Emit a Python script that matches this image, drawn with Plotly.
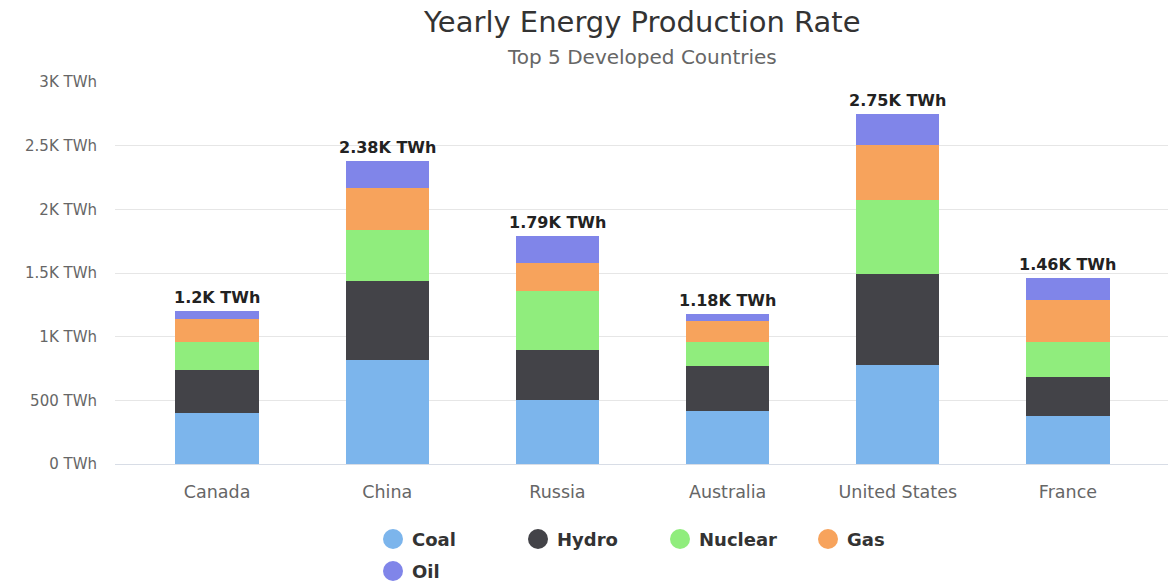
import plotly.graph_objects as go

# Yearly production by source (TWh)
countries = ["Canada", "China", "Russia", "Australia", "United States", "France"]
coal = [400, 820, 500, 415, 780, 380]
hydro = [335, 615, 395, 355, 715, 300]
nuclear = [220, 405, 460, 190, 580, 275]
gas = [180, 330, 220, 160, 430, 335]
oil = [65, 210, 215, 60, 245, 170]

series_names = ["Coal", "Hydro", "Nuclear", "Gas", "Oil"]
series_values = [coal, hydro, nuclear, gas, oil]
series_colors = ["#7cb5ec", "#434348", "#90ed7d", "#f7a35c", "#8085e9"]

y_tick_values = [0, 500, 1000, 1500, 2000, 2500, 3000]
y_tick_labels = ["0 TWh", "500 TWh", "1K TWh", "1.5K TWh", "2K TWh", "2.5K TWh", "3K TWh"]

FONT = "DejaVu Sans"
W, H = 1168, 582
M_L, M_R, M_T, M_B = 115, 0, 82, 118
PLOT_W = W - M_L - M_R
PLOT_H = H - M_T - M_B

fig = go.Figure()

for name, vals, color in zip(series_names, series_values, series_colors):
    fig.add_trace(go.Bar(
        name=name, x=countries, y=vals, width=0.49,
        marker=dict(color=color, line=dict(width=0)),
        showlegend=False,
    ))

# stack totals shown above each column
totals = [sum(v) for v in zip(*series_values)]
annotations = []
for c, t in zip(countries, totals):
    annotations.append(dict(
        x=c, y=t, xref="x", yref="y", text=f"{t / 1000:g}K TWh",
        showarrow=False, xanchor="center", yanchor="bottom", yshift=2,
        font=dict(family=FONT, size=16, color="#222222", weight="bold"),
    ))

# legend drawn as circles + labels below the plot area (pixel positions)
legend_px = [(393, 539), (538, 539), (680, 539), (828, 539), (393, 571)]
shapes = []
r = 10
for (px, py), name, color in zip(legend_px, series_names, series_colors):
    cx = (px - M_L) / PLOT_W
    cy = (H - M_B - py) / PLOT_H
    shapes.append(dict(
        type="circle", xref="paper", yref="paper",
        x0=cx - r / PLOT_W, x1=cx + r / PLOT_W,
        y0=cy - r / PLOT_H, y1=cy + r / PLOT_H,
        fillcolor=color, line=dict(width=0), layer="above",
    ))
    annotations.append(dict(
        xref="paper", yref="paper", x=(px + 17 - M_L) / PLOT_W, y=cy,
        text=name, showarrow=False, xanchor="left", yanchor="middle",
        font=dict(family=FONT, size=18, color="#333333", weight="bold"),
    ))

# title and subtitle
annotations.append(dict(
    xref="paper", yref="paper", x=(642 - M_L) / PLOT_W, y=(H - M_B - 22) / PLOT_H,
    text="Yearly Energy Production Rate", showarrow=False,
    xanchor="center", yanchor="middle",
    font=dict(family=FONT, size=29, color="#333333"),
))
annotations.append(dict(
    xref="paper", yref="paper", x=(642 - M_L) / PLOT_W, y=(H - M_B - 57) / PLOT_H,
    text="Top 5 Developed Countries", showarrow=False,
    xanchor="center", yanchor="middle",
    font=dict(family=FONT, size=20, color="#666666"),
))

fig.update_layout(
    width=W, height=H,
    margin=dict(l=M_L, r=M_R, t=M_T, b=M_B, pad=0),
    barmode="stack",
    plot_bgcolor="white", paper_bgcolor="white",
    font=dict(family=FONT, color="#666666"),
    shapes=shapes, annotations=annotations,
    xaxis=dict(
        type="category", range=[-0.6, 5.588],
        showgrid=False, showline=True, linecolor="#d8dde6", linewidth=1,
        ticks="", tickfont=dict(family=FONT, size=17.5, color="#666666"),
        ticklabelstandoff=12, zeroline=False, fixedrange=True,
    ),
    yaxis=dict(
        range=[0, 3000], tickvals=y_tick_values, ticktext=y_tick_labels,
        showgrid=True, gridcolor="#e6e6e6", gridwidth=1,
        zeroline=False, showline=False, ticks="",
        tickfont=dict(family=FONT, size=15, color="#666666"),
        ticklabelstandoff=17, fixedrange=True,
    ),
    bargap=0,
)

fig.write_html("out.html")
